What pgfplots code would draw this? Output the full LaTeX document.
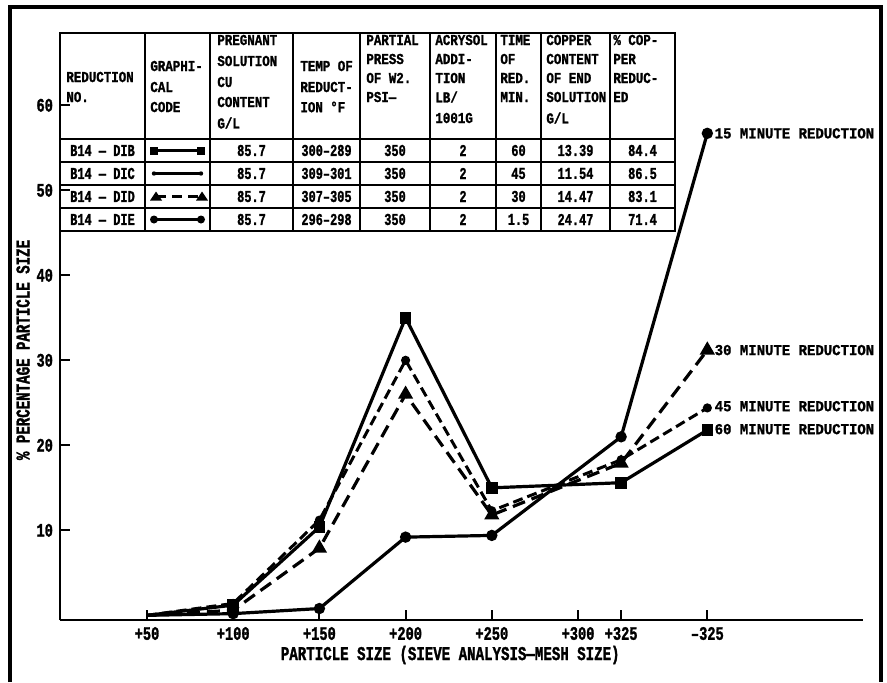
\documentclass[border=0pt]{standalone}
\usepackage{fontspec}
\setmainfont{Liberation Sans}
\newfontfamily\lhead{Liberation Mono}[FakeStretch=0.82, FakeBold=1.2]
\newfontfamily\lend{Liberation Mono}[FakeStretch=0.92, FakeBold=1.2]
\newfontfamily\llab{Liberation Mono}[FakeStretch=0.72, FakeBold=1.4]
\newfontfamily\lrow{Liberation Mono}[FakeStretch=0.72, FakeBold=1.2]
\usepackage{pgfplots}
\pgfplotsset{compat=1.18}
\begin{document}
\begin{tikzpicture}
\useasboundingbox (0,0) rectangle (443.5pt,341pt);
\begin{axis}[
  at={(30pt,31pt)}, anchor=south west,
  scale only axis, width=401.5pt, height=293.5pt,
  xmin=-1.009, xmax=8.306, ymin=-0.55, ymax=68.5,
  axis lines*=left, axis line style={line width=1.3pt},
  tick align=inside, major tick length=5pt, tick style={line width=1.1pt, black},
  xtick={0,1,2,3,4,5,5.5,6.5},
  xticklabels={+50,+100,+150,+200,+250,+300,+325,–325},
  ytick={10,20,30,40,50,60}, yticklabels={10,20,30,40,50,60},
  ticklabel style={font=\llab\bfseries\fontsize{9.5}{9.5}\selectfont},
  xlabel={PARTICLE SIZE (SIEVE ANALYSIS—MESH SIZE)},
  ylabel={\% PERCENTAGE PARTICLE SIZE},
  label style={font=\llab\bfseries\fontsize{9.8}{9.8}\selectfont},
  xlabel style={at={(axis description cs:0.486,-0.0596)}, anchor=center},
  ylabel style={at={(axis description cs:-0.046,0.46)}, anchor=center},
  clip=false,
]
% 60 minute reduction (B14-DIB)
\addplot[line width=1.6pt, mark=square*, mark size=2.1pt, mark indices={2,3,4,5,6,7}] coordinates {
  (0,0) (1,1.2) (2,10.4) (3,35.0) (4,15.0) (5.5,15.6) (6.5,21.8)};
% 15 minute reduction (B14-DIE)
\addplot[line width=1.6pt, mark=*, mark size=2.0pt, mark indices={2,3,4,5,6,7}] coordinates {
  (0,0) (1,0.2) (2,0.8) (3,9.2) (4,9.4) (5.5,21.0) (6.5,56.7)};
% 30 minute reduction (B14-DID)
\addplot[line width=1.6pt, dash pattern=on 6.5pt off 3.5pt, mark=triangle*, mark size=2.8pt, mark options={solid}, mark indices={2,3,4,5,6,7}] coordinates {
  (0,0) (1,0.6) (2,7.9) (3,26.0) (4,11.8) (5.5,17.9) (6.5,31.2)};
% 45 minute reduction (B14-DIC)
\addplot[line width=1.5pt, dash pattern=on 5pt off 2.5pt, mark=*, mark size=1.5pt, mark options={solid}, mark indices={2,3,4,5,6,7}] coordinates {
  (0,0) (1,1.4) (2,11.2) (3,30.0) (4,12.3) (5.5,18.3) (6.5,24.4)};
\begin{scope}[every node/.style={anchor=west, inner sep=0pt, font=\lend\bfseries\fontsize{7.6}{7.6}\selectfont}]
\node at (axis cs:6.5,56.7) [xshift=3.5pt] {15 MINUTE REDUCTION};
\node at (axis cs:6.5,31.2) [xshift=3.5pt] {30 MINUTE REDUCTION};
\node at (axis cs:6.5,24.6) [xshift=3.5pt] {45 MINUTE REDUCTION};
\node at (axis cs:6.5,21.9) [xshift=3.5pt] {60 MINUTE REDUCTION};
\end{scope}
\end{axis}
\begin{scope}[shift={(0pt,341pt)}, x=0.5pt, y=-0.5pt]
% frame
\draw[line width=1.6pt] (10,682) -- (10,7) -- (881,7) -- (881,682);
% table grid
\draw[line width=1pt] (60,33) rectangle (675,231);
\foreach \yy in {139,162,185,208} \draw[line width=0.9pt] (60,\yy) -- (675,\yy);
\foreach \xx in {145,210,293,360,430,496,541,610} \draw[line width=0.9pt] (\xx,33) -- (\xx,231);
% header
\begin{scope}[every node/.style={anchor=west, inner sep=0pt, font=\lhead\bfseries\fontsize{7.6}{7.6}\selectfont}]
\node at (66,77) {REDUCTION}; \node at (66,97) {NO.};
\node at (150,66) {GRAPHI-}; \node at (150,87) {CAL}; \node at (150,107) {CODE};
\node at (217,40) {PREGNANT}; \node at (217,61) {SOLUTION}; \node at (217,82) {CU}; \node at (217,102) {CONTENT}; \node at (217,123) {G/L};
\node at (300,66) {TEMP OF}; \node at (300,87) {REDUCT-}; \node at (300,107) {ION °F};
\node at (366,40) {PARTIAL}; \node at (366,59) {PRESS}; \node at (366,78) {OF W2.}; \node at (366,97) {PSI—};
\node at (435,40) {ACRYSOL}; \node at (435,59) {ADDI-}; \node at (435,78) {TION}; \node at (435,97) {LB/}; \node at (435,118) {1001G};
\node at (500,40) {TIME}; \node at (500,59) {OF}; \node at (500,78) {RED.}; \node at (500,97) {MIN.};
\node at (546,40) {COPPER}; \node at (546,59) {CONTENT}; \node at (546,78) {OF END}; \node at (546,97) {SOLUTION}; \node at (546,118) {G/L};
\node at (613,40) {\% COP-}; \node at (613,59) {PER}; \node at (613,78) {REDUC-}; \node at (613,97) {ED};
\end{scope}
% rows
\begin{scope}[every node/.style={anchor=center, inner sep=0pt, font=\lrow\bfseries\fontsize{8.3}{8.3}\selectfont}]
\foreach \ry/\a/\b/\c/\d/\e/\f/\g/\h in {
  150.5/B14 — DIB/85.7/300–289/350/2/60/13.39/84.4,
  173.5/B14 — DIC/85.7/309–301/350/2/45/11.54/86.5,
  196.5/B14 — DID/85.7/307–305/350/2/30/14.47/83.1,
  219.5/B14 — DIE/85.7/296–298/350/2/1.5/24.47/71.4}{
  \node at (102.5,\ry) {\a};
  \node at (251.5,\ry) {\b};
  \node at (326.5,\ry) {\c};
  \node at (395,\ry) {\d};
  \node at (463,\ry) {\e};
  \node at (518.5,\ry) {\f};
  \node at (575.5,\ry) {\g};
  \node at (642.5,\ry) {\h};
}
\end{scope}
% graphical code samples
\draw[line width=1.6pt] (154,150.5) -- (201,150.5);
\fill (150,146.5) rectangle (158,154.5); \fill (197,146.5) rectangle (205,154.5);
\draw[line width=1.3pt] (154,173.5) -- (201,173.5);
\fill (154,173.5) circle (2.2); \fill (201,173.5) circle (2.2);
\draw[line width=1.6pt, dash pattern=on 5pt off 3pt] (156,196.5) -- (200,196.5);
\fill (150,200.5) -- (156,191.5) -- (162,200.5) -- cycle; \fill (196,200.5) -- (202,191.5) -- (208,200.5) -- cycle;
\draw[line width=1.6pt] (154,219.5) -- (201,219.5);
\fill (154,219.5) circle (4); \fill (201,219.5) circle (4);
\end{scope}
\end{tikzpicture}
\end{document}
